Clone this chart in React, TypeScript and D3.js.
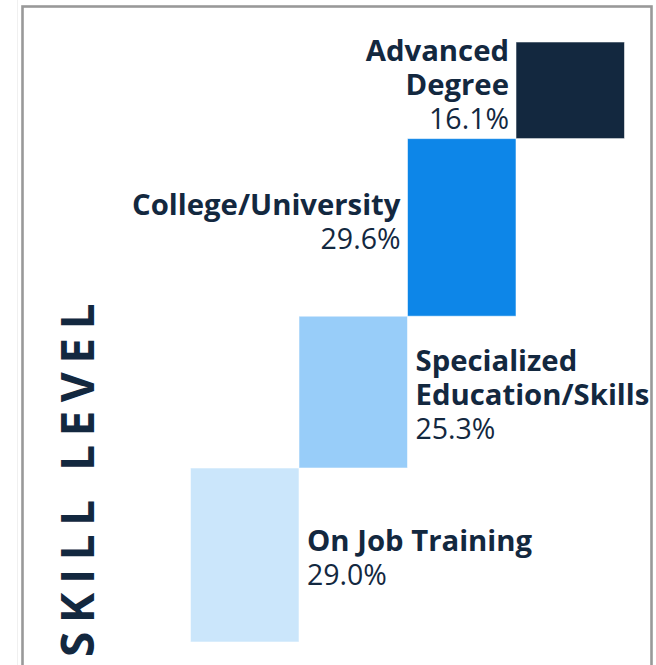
import { useEffect, useRef } from 'react'
import * as d3 from 'd3'

const categories = ['On Job Training', 'Specialized Education/Skills', 'College/University', 'Advanced Degree']
const labelLines = [['On Job Training'], ['Specialized', 'Education/Skills'], ['College/University'], ['Advanced', 'Degree']]
const shares = [29.0, 25.3, 29.6, 16.1]
const barColors = ['#cbe6fb', '#98cdf9', '#0d86e8', '#13283f']
const axisTitle = 'SKILL LEVEL'

const WIDTH = 656
const HEIGHT = 665
const INK = '#13283f'
const FONT = '"Open Sans", "Noto Sans", sans-serif'

export default function App() {
  const svgRef = useRef<SVGSVGElement>(null)

  useEffect(() => {
    const svgEl = svgRef.current
    if (!svgEl) return

    const svg = d3.select(svgEl)
    svg.selectAll('*').remove()

    // frame
    svg.append('line')
      .attr('x1', 17.5).attr('x2', 17.5).attr('y1', 0).attr('y2', HEIGHT)
      .style('stroke', '#f0f0f0').style('stroke-width', '1')
    svg.append('rect')
      .attr('x', 22.5).attr('y', 6.5)
      .attr('width', 629).attr('height', HEIGHT + 20)
      .style('fill', 'none').style('stroke', '#999').style('stroke-width', '2.6')

    // stacked steps
    const starts = shares.map((_, i) => d3.sum(shares.slice(0, i)))
    const x = d3.scaleBand<string>().domain(categories).range([190.5, 624.5]).padding(0)
    const y = d3.scaleLinear().domain([0, 100]).range([642, 42])

    const g = svg.append('g')

    g.selectAll('rect.step')
      .data(categories)
      .join('rect')
      .attr('class', 'step')
      .attr('x', d => x(d)!)
      .attr('width', x.bandwidth())
      .attr('y', (_, i) => y(starts[i] + shares[i]))
      .attr('height', (_, i) => y(starts[i]) - y(starts[i] + shares[i]))
      .style('fill', (_, i) => barColors[i])
      .style('stroke', '#fff')
      .style('stroke-opacity', '0.55')
      .style('stroke-width', '1')

    // labels: upper steps get labels on the left, lower steps on the right
    const lineH = 34
    categories.forEach((c, i) => {
      const onLeft = i >= 2
      const mid = (y(starts[i]) + y(starts[i] + shares[i])) / 2
      const lines = [...labelLines[i], `${shares[i].toFixed(1)}%`]
      const n = lines.length
      const base = mid + (onLeft ? 5 : 13) - ((n - 1) / 2) * lineH
      const tx = onLeft ? x(c)! - 7 : x(c)! + x.bandwidth() + 8

      lines.forEach((ln, k) => {
        const isValue = k === n - 1
        g.append('text')
          .attr('x', tx)
          .attr('y', base + k * lineH)
          .attr('text-anchor', onLeft ? 'end' : 'start')
          .style('font-family', FONT)
          .style('font-size', isValue ? '28.5px' : '29.3px')
          .style('font-weight', isValue ? '400' : '700')
          .style('fill', INK)
          .text(ln)
      })
    })

    // vertical title
    svg.append('text')
      .attr('transform', 'translate(94,657) rotate(-90)')
      .attr('text-anchor', 'start')
      .style('font-family', FONT)
      .style('font-size', '46px')
      .style('font-weight', '700')
      .style('letter-spacing', '8.5px')
      .style('fill', INK)
      .text(axisTitle)
  }, [])

  return (
    <div style={{ position: 'absolute', left: 0, top: 0, width: WIDTH, height: HEIGHT, background: '#fff' }}>
      <svg ref={svgRef} width={WIDTH} height={HEIGHT} style={{ display: 'block' }} />
    </div>
  )
}
